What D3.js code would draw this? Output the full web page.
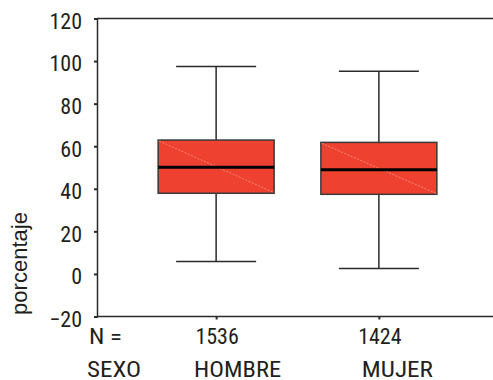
<!DOCTYPE html>
<html>
<head>
<meta charset="utf-8">
<script src="https://cdn.jsdelivr.net/npm/d3@7"></script>
<style>
  html, body { margin: 0; padding: 0; background: #fff; }
  svg { display: block; }
  text { font-family: "Roboto Condensed", "Liberation Sans Narrow", "Arial Narrow", "Liberation Sans", sans-serif; fill: #231f20; }
</style>
</head>
<body>
<svg id="chart" width="493" height="380"></svg>
<script>
// Box plot of porcentaje by SEXO
const categories = ["HOMBRE", "MUJER"];
const counts = [1536, 1424];
const whiskerLow = [5.8, 2.5];
const q1 = [37.9, 37.4];
const median = [50.1, 49.0];
const q3 = [62.9, 61.8];
const whiskerHigh = [97.5, 95.2];
const yTicks = [-20, 0, 20, 40, 60, 80, 100, 120];

const svg = d3.select("#chart");
const plotLeft = 97, plotRight = 498, plotTop = 18.5, plotBottom = 316.5;

const x = d3.scalePoint().domain(categories).range([plotLeft, plotRight]).padding(0.732);
const y = d3.scaleLinear().domain([-20, 120]).range([plotBottom, plotTop]);

const boxW = 116, capW = 80;
const ink = "#2b2b2b";
const fs = "22px";

// frame: top line
svg.append("line")
  .attr("x1", plotLeft).attr("x2", plotRight).attr("y1", plotTop).attr("y2", plotTop)
  .attr("stroke", ink).attr("stroke-width", 1.5);

// y axis
const yAxis = svg.append("g")
  .attr("transform", `translate(${plotLeft},0)`)
  .call(d3.axisLeft(y).tickValues(yTicks).tickSize(3).tickPadding(12).tickFormat(d3.format("d")));
yAxis.select(".domain").attr("stroke", ink).attr("stroke-width", 1.5);
yAxis.selectAll(".tick line").attr("stroke", ink).attr("stroke-width", 2);
yAxis.selectAll(".tick text")
  .style("font-size", fs).attr("fill", "#231f20").attr("dy", "0.45em");

// x axis
const xAxis = svg.append("g")
  .attr("transform", `translate(0,${plotBottom})`)
  .call(d3.axisBottom(x).tickSize(3).tickFormat(""));
xAxis.select(".domain").attr("stroke", ink).attr("stroke-width", 1.5)
  .attr("d", `M${plotLeft},0H${plotRight}`);
xAxis.selectAll(".tick line").attr("stroke", ink).attr("stroke-width", 2);

// y title
svg.append("text")
  .attr("transform", `translate(27,263.5) rotate(-90)`)
  .attr("text-anchor", "middle")
  .style("font-family", "'Liberation Sans', Arial, sans-serif")
  .style("font-size", "22px")
  .text("porcentaje");

// boxes
const data = categories.map((c, i) => ({
  c, lo: whiskerLow[i], q1: q1[i], med: median[i], q3: q3[i], hi: whiskerHigh[i], n: counts[i]
}));

const g = svg.append("g").selectAll("g").data(data).join("g");

// whisker stems
g.append("line")
  .attr("x1", d => x(d.c)).attr("x2", d => x(d.c))
  .attr("y1", d => y(d.hi)).attr("y2", d => y(d.q3))
  .attr("stroke", ink).attr("stroke-width", 1.5);
g.append("line")
  .attr("x1", d => x(d.c)).attr("x2", d => x(d.c))
  .attr("y1", d => y(d.q1)).attr("y2", d => y(d.lo))
  .attr("stroke", ink).attr("stroke-width", 1.5);
// caps
g.append("line")
  .attr("x1", d => x(d.c) - capW / 2).attr("x2", d => x(d.c) + capW / 2)
  .attr("y1", d => y(d.hi)).attr("y2", d => y(d.hi))
  .attr("stroke", ink).attr("stroke-width", 1.5);
g.append("line")
  .attr("x1", d => x(d.c) - capW / 2).attr("x2", d => x(d.c) + capW / 2)
  .attr("y1", d => y(d.lo)).attr("y2", d => y(d.lo))
  .attr("stroke", ink).attr("stroke-width", 1.5);
// box
g.append("rect")
  .attr("x", d => x(d.c) - boxW / 2).attr("width", boxW)
  .attr("y", d => y(d.q3)).attr("height", d => y(d.q1) - y(d.q3))
  .attr("fill", "#ee4130").attr("stroke", "#3a3a3a").attr("stroke-width", 1.5);
// faint diagonal inside the box
g.append("line")
  .attr("x1", d => x(d.c) - boxW / 2 + 1).attr("y1", d => y(d.q3) + 1)
  .attr("x2", d => x(d.c) + boxW / 2 - 1).attr("y2", d => y(d.q1) - 1)
  .attr("stroke", "#f49a8a").attr("stroke-width", 0.8).attr("stroke-dasharray", "2,1.5");
// median
g.append("line")
  .attr("x1", d => x(d.c) - boxW / 2).attr("x2", d => x(d.c) + boxW / 2)
  .attr("y1", d => y(d.med)).attr("y2", d => y(d.med))
  .attr("stroke", "#000").attr("stroke-width", 3);

// N row and category labels
svg.append("text").attr("x", 89).attr("y", 343.5).style("font-size", fs)
  .attr("textLength", 33).attr("lengthAdjust", "spacingAndGlyphs").text("N =");
svg.append("text").attr("x", 87).attr("y", 376.5).style("font-size", fs)
  .attr("textLength", 54).attr("lengthAdjust", "spacingAndGlyphs").text("SEXO");
g.append("text")
  .attr("x", d => x(d.c) + 1).attr("y", 343.5)
  .attr("text-anchor", "middle").style("font-size", fs)
  .text(d => d.n);
g.append("text")
  .attr("x", d => x(d.c) + (d.c === "HOMBRE" ? -22 : -17)).attr("y", 376.5)
  .attr("textLength", d => d.c === "HOMBRE" ? 87 : 71)
  .attr("lengthAdjust", "spacingAndGlyphs")
  .style("font-size", fs)
  .text(d => d.c);
</script>
</body>
</html>
